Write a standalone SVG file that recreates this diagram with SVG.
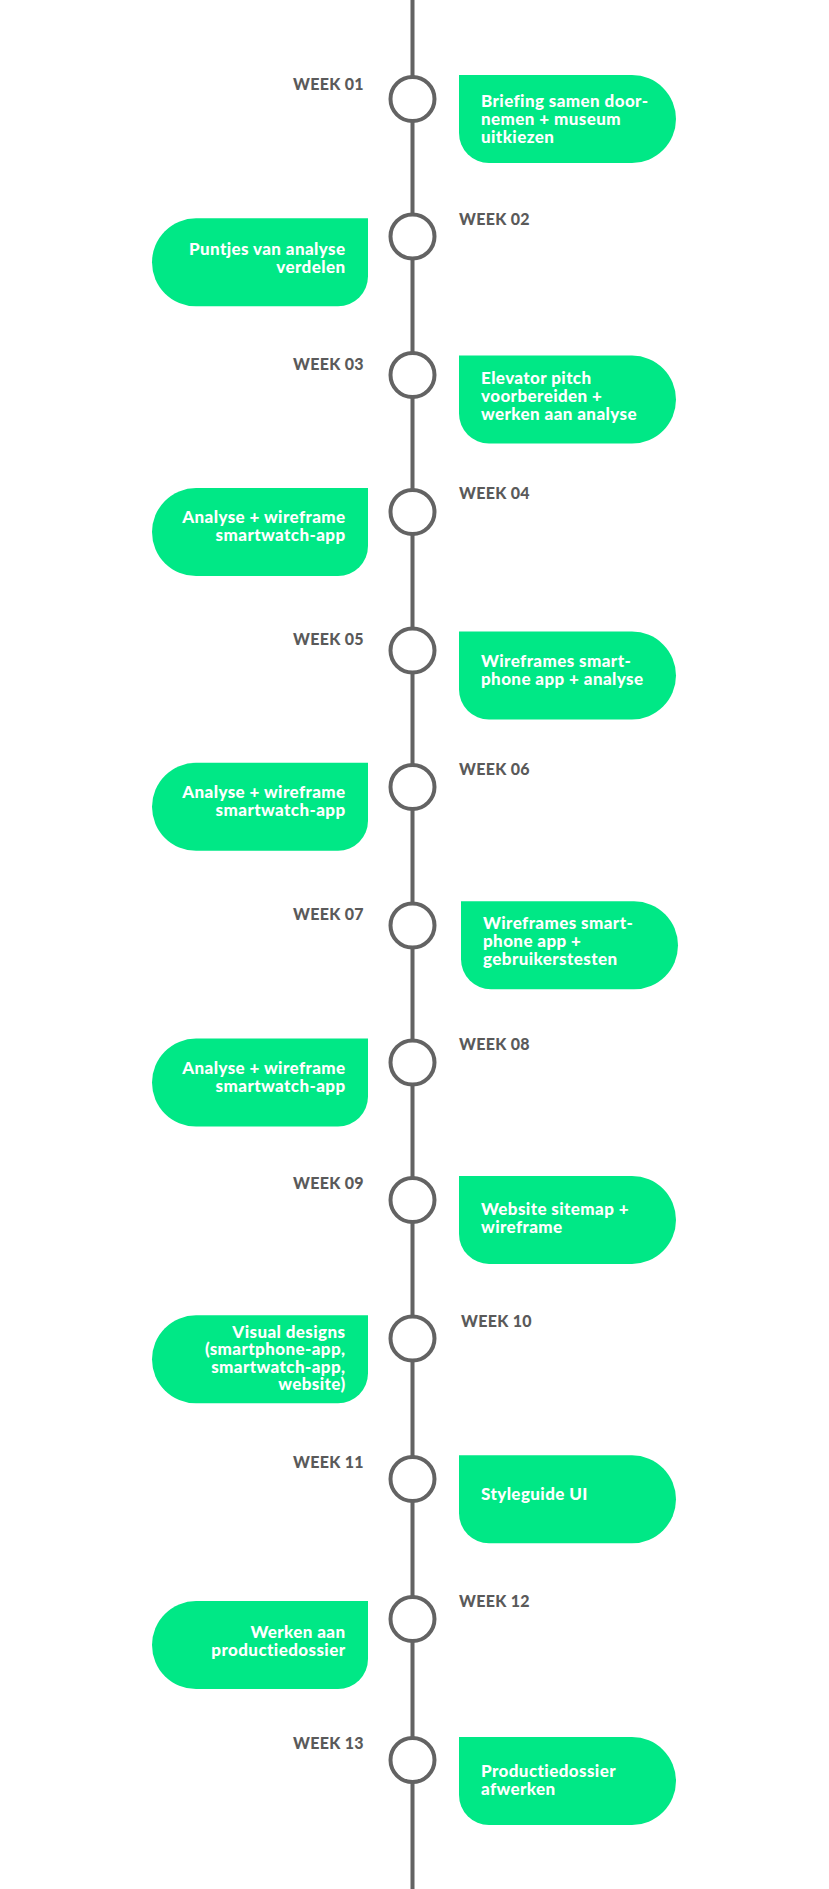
<svg xmlns="http://www.w3.org/2000/svg" xmlns:xlink="http://www.w3.org/1999/xlink" width="829" height="1889" viewBox="0 0 829 1889">
<style>
.wk{font-family:Lato,"Liberation Sans",sans-serif;font-weight:900;font-size:16px;letter-spacing:0.3px;fill:#5a5a5a}
.bt{font-family:Lato,"Liberation Sans",sans-serif;font-weight:900;font-size:17px;letter-spacing:0.4px;fill:#ffffff}
.end{text-anchor:end}
.box{fill:#00e886}
.dot{fill:#ffffff;stroke:#636363;stroke-width:4}
.spine{stroke:#636363;stroke-width:4}
</style>
<defs>
<path id="boxR" d="M0,0 H173 A44 44 0 0 1 217,44 A44 44 0 0 1 173,88 H30 A30 30 0 0 1 0,58 Z"/>
<path id="boxL" d="M216,0 V58 A30 30 0 0 1 186,88 H44 A44 44 0 0 1 0,44 A44 44 0 0 1 44,0 Z"/>
</defs>
<rect width="829" height="1889" fill="#ffffff"/>
<g id="connectors">
<line class="spine" x1="412.5" y1="0" x2="412.5" y2="1889"/>
</g>
<g id="week01">
<circle class="dot" cx="412.5" cy="99" r="22"/>
<text class="wk" x="293" y="89.6">WEEK 01</text>
<use href="#boxR" class="box" x="459" y="75"/>
<text class="bt" x="481" y="106.7">Briefing samen door-</text>
<text class="bt" x="481" y="124.7">nemen + museum</text>
<text class="bt" x="481" y="142.7">uitkiezen</text>
</g>
<g id="week02">
<circle class="dot" cx="412.5" cy="236.5" r="22"/>
<text class="wk" x="459" y="224.5">WEEK 02</text>
<use href="#boxL" class="box" x="152" y="218.3"/>
<text class="bt end" x="345.5" y="255">Puntjes van analyse</text>
<text class="bt end" x="345.5" y="273">verdelen</text>
</g>
<g id="week03">
<circle class="dot" cx="412.5" cy="375" r="22"/>
<text class="wk" x="293" y="370.1">WEEK 03</text>
<use href="#boxR" class="box" x="459" y="355.6"/>
<text class="bt" x="481" y="383.5">Elevator pitch</text>
<text class="bt" x="481" y="401.5">voorbereiden +</text>
<text class="bt" x="481" y="419.5">werken aan analyse</text>
</g>
<g id="week04">
<circle class="dot" cx="412.5" cy="512" r="22"/>
<text class="wk" x="459" y="499.2">WEEK 04</text>
<use href="#boxL" class="box" x="152" y="488.1"/>
<text class="bt end" x="345.5" y="523.2">Analyse + wireframe</text>
<text class="bt end" x="345.5" y="541.2">smartwatch-app</text>
</g>
<g id="week05">
<circle class="dot" cx="412.5" cy="650.5" r="22"/>
<text class="wk" x="293" y="644.9">WEEK 05</text>
<use href="#boxR" class="box" x="459" y="631.5"/>
<text class="bt" x="481" y="666.6">Wireframes smart-</text>
<text class="bt" x="481" y="684.6">phone app + analyse</text>
</g>
<g id="week06">
<circle class="dot" cx="412.5" cy="787" r="22"/>
<text class="wk" x="459" y="775">WEEK 06</text>
<use href="#boxL" class="box" x="152" y="762.8"/>
<text class="bt end" x="345.5" y="798">Analyse + wireframe</text>
<text class="bt end" x="345.5" y="816">smartwatch-app</text>
</g>
<g id="week07">
<circle class="dot" cx="412.5" cy="925.5" r="22"/>
<text class="wk" x="293" y="919.5">WEEK 07</text>
<use href="#boxR" class="box" x="461" y="901.3"/>
<text class="bt" x="483" y="929.2">Wireframes smart-</text>
<text class="bt" x="483" y="947.2">phone app +</text>
<text class="bt" x="483" y="965.2">gebruikerstesten</text>
</g>
<g id="week08">
<circle class="dot" cx="412.5" cy="1062.5" r="22"/>
<text class="wk" x="459" y="1049.6">WEEK 08</text>
<use href="#boxL" class="box" x="152" y="1038.6"/>
<text class="bt end" x="345.5" y="1073.7">Analyse + wireframe</text>
<text class="bt end" x="345.5" y="1091.7">smartwatch-app</text>
</g>
<g id="week09">
<circle class="dot" cx="412.5" cy="1200" r="22"/>
<text class="wk" x="293" y="1189.3">WEEK 09</text>
<use href="#boxR" class="box" x="459" y="1175.9"/>
<text class="bt" x="481" y="1214.6">Website sitemap +</text>
<text class="bt" x="481" y="1232.6">wireframe</text>
</g>
<g id="week10">
<circle class="dot" cx="412.5" cy="1338.5" r="22"/>
<text class="wk" x="461" y="1326.6">WEEK 10</text>
<use href="#boxL" class="box" x="152" y="1315.3"/>
<text class="bt end" x="345.5" y="1337.5">Visual designs</text>
<text class="bt end" x="345.5" y="1355">(smartphone-app,</text>
<text class="bt end" x="345.5" y="1372.5">smartwatch-app,</text>
<text class="bt end" x="345.5" y="1390">website)</text>
</g>
<g id="week11">
<circle class="dot" cx="412.5" cy="1479" r="22"/>
<text class="wk" x="293" y="1467.6">WEEK 11</text>
<use href="#boxR" class="box" x="459" y="1455.3"/>
<text class="bt" x="481" y="1500.1">Styleguide UI</text>
</g>
<g id="week12">
<circle class="dot" cx="412.5" cy="1619" r="22"/>
<text class="wk" x="459" y="1607.3">WEEK 12</text>
<use href="#boxL" class="box" x="152" y="1601.1"/>
<text class="bt end" x="345.5" y="1637.5">Werken aan</text>
<text class="bt end" x="345.5" y="1655.5">productiedossier</text>
</g>
<g id="week13">
<circle class="dot" cx="412.5" cy="1760" r="22"/>
<text class="wk" x="293" y="1748.5">WEEK 13</text>
<use href="#boxR" class="box" x="459" y="1737"/>
<text class="bt" x="481" y="1777">Productiedossier</text>
<text class="bt" x="481" y="1794.8">afwerken</text>
</g>
</svg>
